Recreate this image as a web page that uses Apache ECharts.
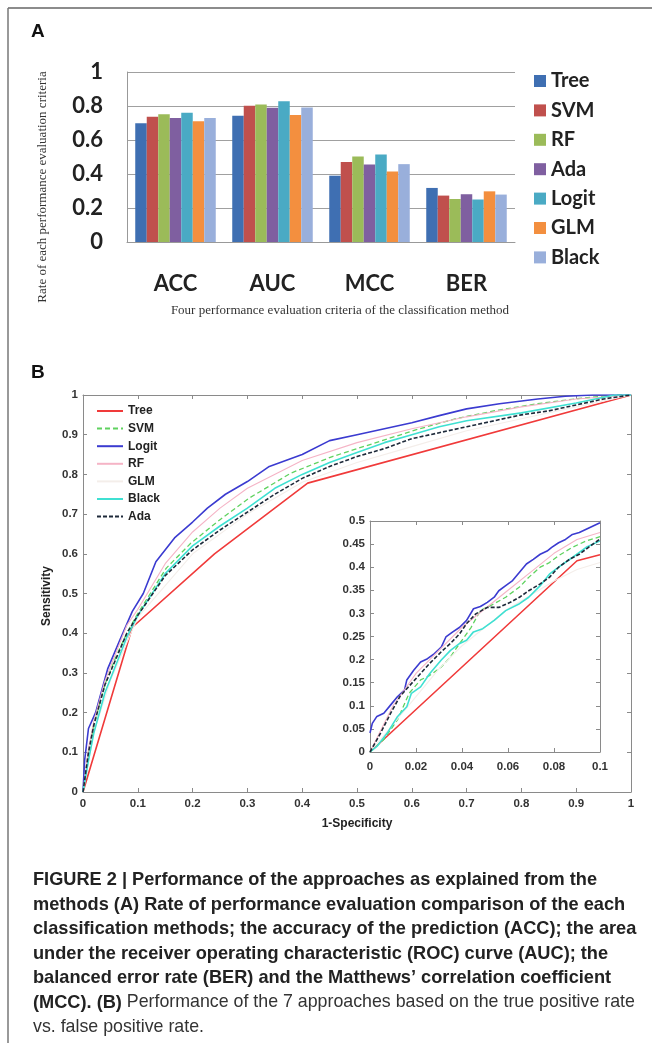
<!DOCTYPE html>
<html><head><meta charset="utf-8">
<script src="https://cdn.jsdelivr.net/npm/echarts@6/dist/echarts.min.js"></script>
<style>html,body{margin:0;padding:0;background:#fff}#c{width:652px;height:1043px}</style>
</head><body><div id="c"></div>
<script>
// ---------- Panel A data ----------
const categories = ['ACC', 'AUC', 'MCC', 'BER'];
const methodsA = ['Tree', 'SVM', 'RF', 'Ada', 'Logit', 'GLM', 'Black'];
const treeVals  = [0.698, 0.743, 0.390, 0.318];
const svmVals   = [0.737, 0.801, 0.470, 0.273];
const rfVals    = [0.752, 0.809, 0.503, 0.253];
const adaVals   = [0.729, 0.789, 0.456, 0.281];
const logitVals = [0.760, 0.828, 0.515, 0.250];
const glmVals   = [0.710, 0.747, 0.415, 0.298];
const blackVals = [0.729, 0.791, 0.458, 0.279];
const yTicksA = [0, 0.2, 0.4, 0.6, 0.8, 1];

// ---------- Panel B data (1-Specificity, Sensitivity) ----------
const rocTree  = [[0,0],[0.09,0.415],[0.24,0.6],[0.41,0.778],[1,1]];
const rocSVM   = [[0,0],[0.01,0.1],[0.02,0.17],[0.04,0.27],[0.06,0.34],[0.08,0.4],[0.1,0.45],[0.152,0.564],[0.197,0.627],[0.25,0.686],[0.303,0.74],[0.379,0.803],[0.455,0.845],[0.53,0.878],[0.607,0.912],[0.682,0.941],[0.758,0.962],[0.834,0.979],[0.91,0.992],[0.97,1],[1,1]];
const rocLogit = [[0,0],[0.003,0.08],[0.01,0.16],[0.023,0.2],[0.045,0.31],[0.068,0.385],[0.09,0.455],[0.11,0.5],[0.133,0.58],[0.167,0.64],[0.2,0.68],[0.227,0.715],[0.26,0.75],[0.3,0.782],[0.34,0.82],[0.4,0.85],[0.45,0.885],[0.5,0.9],[0.55,0.915],[0.6,0.93],[0.65,0.948],[0.7,0.965],[0.76,0.978],[0.83,0.99],[0.88,0.997],[0.93,1],[1,1]];
const rocRF    = [[0,0],[0.01,0.11],[0.02,0.18],[0.04,0.28],[0.06,0.35],[0.08,0.42],[0.1,0.46],[0.15,0.575],[0.2,0.655],[0.25,0.715],[0.3,0.765],[0.4,0.835],[0.5,0.88],[0.6,0.915],[0.7,0.945],[0.8,0.97],[0.9,0.99],[1,1]];
const rocGLM   = [[0,0],[0.02,0.15],[0.05,0.28],[0.1,0.44],[0.2,0.6],[0.3,0.7],[0.4,0.78],[0.5,0.83],[0.6,0.87],[0.7,0.91],[0.8,0.94],[0.9,0.97],[1,1]];
const rocBlack = [[0,0],[0.01,0.08],[0.02,0.15],[0.04,0.25],[0.06,0.32],[0.08,0.39],[0.1,0.445],[0.15,0.55],[0.2,0.62],[0.25,0.67],[0.3,0.715],[0.35,0.765],[0.4,0.8],[0.45,0.83],[0.5,0.855],[0.55,0.88],[0.6,0.9],[0.65,0.92],[0.7,0.935],[0.8,0.955],[0.9,0.98],[0.97,1],[1,1]];
const rocAda   = [[0,0],[0.01,0.1],[0.02,0.17],[0.04,0.27],[0.06,0.335],[0.08,0.4],[0.1,0.445],[0.15,0.545],[0.2,0.61],[0.25,0.66],[0.3,0.705],[0.35,0.75],[0.4,0.79],[0.45,0.82],[0.5,0.845],[0.55,0.865],[0.6,0.89],[0.65,0.905],[0.7,0.92],[0.75,0.935],[0.8,0.95],[0.85,0.96],[0.9,0.975],[0.95,0.99],[1,1]];

// ---------- Inset data (zoom of 0..0.1) ----------
const insetTree  = [[0,0],[0.09,0.414],[0.1,0.427]];
const insetLogit = [[0,0.041],[0.001,0.062],[0.003,0.077],[0.006,0.084],[0.009,0.102],[0.012,0.12],[0.015,0.134],[0.016,0.156],[0.019,0.177],[0.022,0.195],[0.025,0.202],[0.028,0.213],[0.031,0.227],[0.033,0.249],[0.036,0.26],[0.039,0.27],[0.042,0.285],[0.045,0.31],[0.048,0.315],[0.051,0.324],[0.054,0.335],[0.056,0.349],[0.059,0.36],[0.062,0.371],[0.065,0.389],[0.068,0.407],[0.071,0.417],[0.074,0.428],[0.077,0.435],[0.079,0.443],[0.082,0.453],[0.085,0.46],[0.088,0.471],[0.091,0.475],[0.094,0.482],[0.097,0.489],[0.1,0.496]];
const insetBlack = [[0,0],[0.003,0.012],[0.0075,0.041],[0.012,0.077],[0.016,0.098],[0.018,0.127],[0.022,0.141],[0.026,0.17],[0.031,0.199],[0.035,0.22],[0.039,0.235],[0.042,0.242],[0.045,0.26],[0.049,0.267],[0.054,0.285],[0.059,0.306],[0.065,0.321],[0.069,0.335],[0.074,0.36],[0.078,0.385],[0.082,0.4],[0.088,0.421],[0.094,0.443],[0.1,0.457]];
const insetAda   = [[0,0],[0.0046,0.041],[0.009,0.084],[0.013,0.12],[0.018,0.148],[0.022,0.17],[0.026,0.192],[0.031,0.217],[0.035,0.235],[0.039,0.256],[0.042,0.278],[0.046,0.299],[0.051,0.313],[0.056,0.313],[0.061,0.324],[0.065,0.335],[0.069,0.349],[0.074,0.364],[0.078,0.378],[0.082,0.4],[0.087,0.418],[0.091,0.428],[0.095,0.443],[0.1,0.461]];
const insetSVM   = [[0,0],[0.006,0.027],[0.012,0.07],[0.017,0.127],[0.022,0.156],[0.026,0.166],[0.031,0.184],[0.035,0.206],[0.039,0.235],[0.044,0.27],[0.048,0.306],[0.054,0.321],[0.059,0.335],[0.065,0.357],[0.069,0.378],[0.074,0.4],[0.078,0.41],[0.082,0.425],[0.088,0.443],[0.094,0.457],[0.1,0.466]];
const insetRF    = [[0,0],[0.01,0.1],[0.02,0.17],[0.03,0.22],[0.04,0.27],[0.05,0.31],[0.06,0.35],[0.07,0.39],[0.08,0.43],[0.09,0.46],[0.1,0.475]];
const insetGLM   = [[0,0],[0.01,0.06],[0.02,0.12],[0.03,0.18],[0.04,0.23],[0.05,0.27],[0.06,0.31],[0.07,0.34],[0.08,0.37],[0.09,0.395],[0.1,0.41]];

const captionLines = [
  'FIGURE 2 | Performance of the approaches as explained from the',
  'methods (A) Rate of performance evaluation comparison of the each',
  'classification methods; the accuracy of the prediction (ACC); the area',
  'under the receiver operating characteristic (ROC) curve (AUC); the',
  'balanced error rate (BER) and the Matthews\u2019 correlation coefficient'
];
const captionMixedBold = '(MCC). (B)';
const captionMixedReg = ' Performance of the 7 approaches based on the true positive rate';
const captionLast = 'vs. false positive rate.';

// ---------- styles ----------
const barColors = ['#3f6fb2', '#c0504d', '#9bbb59', '#7f5fa0', '#4aaac4', '#f38f3f', '#99afdb'];
const fmt = v => String(+(+v).toFixed(2));
const lineDefs = [
  {name:'Tree',  main:rocTree,  inset:insetTree,  color:'#f03a3a', w:1.6, type:'solid'},
  {name:'SVM',   main:rocSVM,   inset:insetSVM,   color:'#5fd25f', w:1.3, type:[5,3]},
  {name:'Logit', main:rocLogit, inset:insetLogit, color:'#3b3bd0', w:1.6, type:'solid'},
  {name:'RF',    main:rocRF,    inset:insetRF,    color:'#f5b4c6', w:1.1, type:'solid'},
  {name:'GLM',   main:rocGLM,   inset:insetGLM,   color:'#f4eeea', w:1.1, type:'solid'},
  {name:'Black', main:rocBlack, inset:insetBlack, color:'#3fe0d2', w:1.6, type:'solid'},
  {name:'Ada',   main:rocAda,   inset:insetAda,   color:'#1e2a3a', w:1.6, type:[4,2]}
];
const valsA = [treeVals, svmVals, rfVals, adaVals, logitVals, glmVals, blackVals];

const chart = echarts.init(document.getElementById('c'), null, {renderer: 'canvas'});

const tickLbl = {fontFamily: 'Liberation Sans, Arial', fontWeight: 'bold', fontSize: 11.5, color: '#333'};
function boxAxis(gridIndex, pos, min, max, interval, showLabel, margin) {
  return {
    type: 'value', gridIndex, position: pos, min, max, interval,
    axisLine: {show: true, onZero: false, lineStyle: {color: '#8a8a8a', width: 1}},
    axisTick: {show: true, inside: true, length: 4, lineStyle: {color: '#8a8a8a'}},
    splitLine: {show: false},
    axisLabel: Object.assign({show: showLabel, margin: margin, formatter: fmt}, tickLbl)
  };
}

const series = [];
methodsA.forEach((m, i) => {
  series.push({
    name: m, type: 'bar', xAxisIndex: 0, yAxisIndex: 0,
    data: valsA[i], barGap: '0%', barCategoryGap: '17%',
    itemStyle: {color: barColors[i]}
  });
});
lineDefs.forEach(d => {
  series.push({
    name: 'B ' + d.name, type: 'line', xAxisIndex: 1, yAxisIndex: 1,
    data: d.main, symbol: 'none', clip: true,
    lineStyle: {color: d.color, width: d.w, type: d.type}, itemStyle: {color: d.color}
  });
});
lineDefs.forEach(d => {
  series.push({
    name: 'B ' + d.name, type: 'line', xAxisIndex: 3, yAxisIndex: 3,
    data: d.inset, symbol: 'none', clip: true,
    lineStyle: {color: d.color, width: d.w, type: d.type}, itemStyle: {color: d.color}
  });
});

const graphics = [
  {type: 'line', shape: {x1: 8, y1: 8, x2: 652, y2: 8}, style: {stroke: '#666', lineWidth: 1.5}},
  {type: 'line', shape: {x1: 8, y1: 8, x2: 8, y2: 1043}, style: {stroke: '#777', lineWidth: 1.5}},
  {type: 'text', left: 31, top: 22, style: {text: 'A', font: 'bold 19px Liberation Sans', fill: '#111'}},
  {type: 'text', left: 31, top: 363, style: {text: 'B', font: 'bold 19px Liberation Sans', fill: '#111'}},
  {type: 'text', x: 43, y: 187, rotation: Math.PI / 2, style: {text: 'Rate of each performance evaluation criteria', font: '13px Liberation Serif', fill: '#333', align: 'center', verticalAlign: 'middle'}},
  {type: 'text', x: 340, y: 311, style: {text: 'Four performance evaluation criteria of the classification method', font: '13px Liberation Serif', fill: '#333', align: 'center', verticalAlign: 'middle'}},
  {type: 'text', x: 47, y: 596, rotation: Math.PI / 2, style: {text: 'Sensitivity', font: 'bold 12px Liberation Sans', fill: '#222', align: 'center', verticalAlign: 'middle'}},
  {type: 'text', x: 357, y: 824, style: {text: '1-Specificity', font: 'bold 12px Liberation Sans', fill: '#222', align: 'center', verticalAlign: 'middle'}}
];
const capTop = 880, capStep = 24.5, capSize = 18.2, capRegSize = 17.8;
captionLines.forEach((t, i) => {
  graphics.push({type: 'text', x: 33, y: capTop + i * capStep, style: {text: t, font: 'bold ' + capSize + 'px Liberation Sans', fill: '#222', verticalAlign: 'middle'}});
});
graphics.push({type: 'text', x: 33, y: capTop + 5 * capStep, style: {
  text: '{b|' + captionMixedBold + '}{r|' + captionMixedReg + '}', verticalAlign: 'middle',
  rich: {b: {font: 'bold ' + capSize + 'px Liberation Sans', fill: '#222'}, r: {font: capRegSize + 'px Liberation Sans', fill: '#333'}}
}});
graphics.push({type: 'text', x: 33, y: capTop + 6 * capStep, style: {text: captionLast, font: capRegSize + 'px Liberation Sans', fill: '#333', verticalAlign: 'middle'}});

const option = {
  animation: false,
  backgroundColor: '#fff',
  grid: [
    {left: 127, top: 72, width: 388, height: 170},
    {left: 83, top: 395, width: 548, height: 397},
    {left: 370, top: 521, width: 230, height: 231, show: true, backgroundColor: '#fff', borderWidth: 0}
  ],
  legend: [
    {
      data: methodsA, orient: 'vertical', left: 534, top: 71, padding: 0,
      icon: 'rect', itemWidth: 12, itemHeight: 12, itemGap: 9.4,
      textStyle: {fontFamily: 'Lato', fontWeight: 'bold', fontSize: 20, lineHeight: 20, color: '#222'},
      selectedMode: false
    },
    {
      data: lineDefs.map(d => 'B ' + d.name), orient: 'vertical', left: 96, top: 405, padding: 0,
      itemWidth: 26, itemHeight: 12, itemGap: 5.6,
      itemStyle: {opacity: 0},
      formatter: n => n.replace(/^B /, ''),
      textStyle: {fontFamily: 'Liberation Sans', fontWeight: 'bold', fontSize: 12, lineHeight: 12, color: '#222'},
      selectedMode: false
    }
  ],
  xAxis: [
    {type: 'category', gridIndex: 0, data: categories,
     axisLine: {show: true, lineStyle: {color: '#999'}}, axisTick: {show: false},
     axisLabel: {margin: 31, fontFamily: 'Lato', fontWeight: 'bold', fontSize: 22, color: '#222'}},
    boxAxis(1, 'bottom', 0, 1, 0.1, true, 6),
    boxAxis(1, 'top', 0, 1, 0.1, false, 6),
    boxAxis(2, 'bottom', 0, 0.1, 0.02, true, 9),
    boxAxis(2, 'top', 0, 0.1, 0.02, false, 6)
  ],
  yAxis: [
    {type: 'value', gridIndex: 0, min: 0, max: 1, interval: 0.2,
     axisLine: {show: true, lineStyle: {color: '#999'}}, axisTick: {show: false},
     splitLine: {show: true, lineStyle: {color: '#a0a0a0', width: 1}},
     axisLabel: {margin: 24, formatter: fmt, fontFamily: 'Lato', fontWeight: 'bold', fontSize: 22, color: '#222'}},
    boxAxis(1, 'left', 0, 1, 0.1, true, 5),
    boxAxis(1, 'right', 0, 1, 0.1, false, 5),
    boxAxis(2, 'left', 0, 0.5, 0.05, true, 5),
    boxAxis(2, 'right', 0, 0.5, 0.05, false, 5)
  ],
  series: series,
  graphic: graphics
};
chart.setOption(option);
</script>
</body></html>
